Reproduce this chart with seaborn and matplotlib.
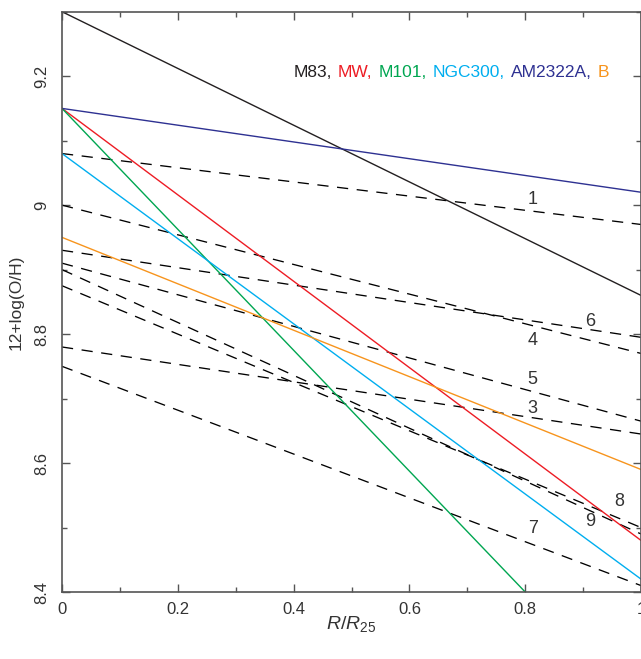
import numpy as np
import pandas as pd
import matplotlib
matplotlib.use('Agg')
import matplotlib.pyplot as plt
import seaborn as sns
from matplotlib.ticker import FixedLocator, FixedFormatter, MultipleLocator
from matplotlib.transforms import offset_copy

# observed gradients (solid, coloured)
galaxies = ['M83', 'MW', 'M101', 'NGC300', 'AM2322A', 'B']
gal_colors = ['#231f20', '#ed1c24', '#00a651', '#00aeef', '#2e3192', '#f7941d']
gal_r_out = [1.0, 1.0, 0.8, 1.0, 1.0, 1.0]
gal_oh_center = [9.30, 9.15, 9.15, 9.08, 9.15, 8.95]
gal_oh_out = [8.86, 8.48, 8.40, 8.42, 9.02, 8.59]

# model gradients (dashed, numbered)
model_ids = ['1', '4', '6', '5', '9', '8', '3', '7']
model_oh_center = [9.08, 9.00, 8.93, 8.91, 8.90, 8.875, 8.78, 8.75]
model_oh_out = [8.97, 8.77, 8.795, 8.665, 8.49, 8.50, 8.645, 8.41]
label_r = [0.813, 0.813, 0.912, 0.813, 0.912, 0.962, 0.813, 0.813]
label_oh = [9.008, 8.790, 8.820, 8.729, 8.509, 8.540, 8.685, 8.499]

xticks = [0, 0.2, 0.4, 0.6, 0.8, 1]
xticklabels = ['0', '0.2', '0.4', '0.6', '0.8', '1']
yticks = [8.4, 8.6, 8.8, 9.0, 9.2]
yticklabels = ['8.4', '8.6', '8.8', '9', '9.2']

sns.set_style('ticks')
plt.rcParams['font.family'] = ['Liberation Sans', 'DejaVu Sans']
plt.rcParams['mathtext.fontset'] = 'custom'
plt.rcParams['mathtext.it'] = 'Liberation Sans:italic'
plt.rcParams['mathtext.rm'] = 'Liberation Sans'

ink = '#333333'
fig = plt.figure(figsize=(6.41, 6.59), dpi=100)
ax = fig.add_axes([62 / 641, 1 - 592 / 659, 579 / 641, 580.3 / 659])

models = pd.DataFrame({
    'model': np.repeat(model_ids, 2),
    'r': np.tile([0.0, 1.0], len(model_ids)),
    'oh': np.ravel(np.column_stack([model_oh_center, model_oh_out])),
})
for m in model_ids:
    sub = models[models['model'] == m]
    sns.lineplot(data=sub, x='r', y='oh', color='black', lw=0.95,
                 linestyle=(0, (8.5, 6.5)), ax=ax)

gals = pd.DataFrame({
    'galaxy': np.repeat(galaxies, 2),
    'r': np.ravel(np.column_stack([np.zeros(len(galaxies)), gal_r_out])),
    'oh': np.ravel(np.column_stack([gal_oh_center, gal_oh_out])),
})
for g, c in zip(galaxies, gal_colors):
    sub = gals[gals['galaxy'] == g]
    sns.lineplot(data=sub, x='r', y='oh', color=c, lw=1.0, ax=ax)

for m, xr, yo in zip(model_ids, label_r, label_oh):
    ax.text(xr, yo, m, fontsize=13, color=ink, ha='center', va='center')

ax.set_xlim(0, 1)
ax.set_ylim(8.4, 9.3)
ax.xaxis.set_major_locator(FixedLocator(xticks))
ax.xaxis.set_major_formatter(FixedFormatter(xticklabels))
ax.yaxis.set_major_locator(FixedLocator(yticks))
ax.yaxis.set_major_formatter(FixedFormatter(yticklabels))
ax.xaxis.set_minor_locator(MultipleLocator(0.1))
ax.yaxis.set_minor_locator(MultipleLocator(0.1))
ax.tick_params(which='both', direction='in', top=True, right=True,
               color='#555555', width=1.0, labelsize=12, labelcolor=ink)
ax.tick_params(which='major', length=6)
ax.tick_params(which='minor', length=3.5)
ax.tick_params(axis='x', pad=7)
ax.tick_params(axis='y', labelrotation=90, pad=9)
for lab in ax.get_yticklabels():
    lab.set_va('center')
for s in ax.spines.values():
    s.set_color('#555555')
    s.set_linewidth(1.2)

ax.set_xlabel(r'$R/R_{25}$', fontsize=14, color=ink, labelpad=-2)
ax.set_ylabel('12+log(O/H)', fontsize=12.5, color=ink, labelpad=8)

# coloured name list at top
fig.canvas.draw()
renderer = fig.canvas.get_renderer()
pieces = [g + ',' for g in galaxies[:-1]] + [galaxies[-1]]
dx = 0
for p, c in zip(pieces, gal_colors):
    t = ax.text(0.40, 9.205, p, fontsize=12.5, color=c, ha='left', va='center',
                transform=offset_copy(ax.transData, fig=fig, x=dx, y=0, units='dots'))
    dx += t.get_window_extent(renderer).width + 6

fig.savefig('out.png', dpi=100)
